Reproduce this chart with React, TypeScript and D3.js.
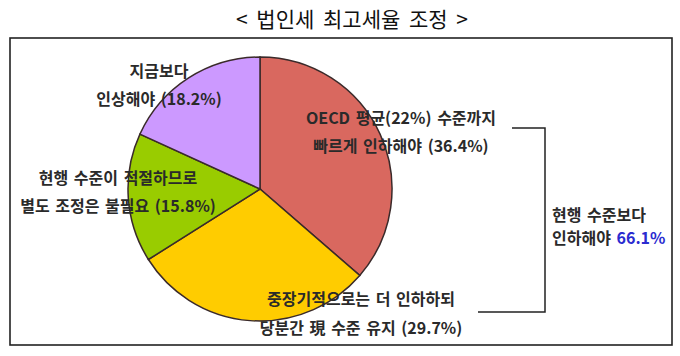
import React from "react";
import * as d3 from "d3";

const title = "< 법인세 최고세율 조정 >";
const categoryLine1 = ["OECD 평균(22%) 수준까지", "중장기적으로는 더 인하하되", "현행 수준이 적절하므로", "지금보다"];
const categoryLine2 = ["빠르게 인하해야", "당분간 現 수준 유지", "별도 조정은 불필요", "인상해야"];
const values = [36.4, 29.7, 15.8, 18.2];
const summaryLines = ["현행 수준보다", "인하해야"];
const summaryValue = "66.1%";

const W = 680;
const H = 356;
const colors = ["#D9685F", "#FFCC00", "#99CC00", "#CC99FF"];
const labelPos = [
  { x: 401, y1: 117, y2: 145 },
  { x: 361, y1: 298, y2: 327 },
  { x: 118, y1: 177, y2: 205 },
  { x: 159, y1: 70, y2: 98 },
];
const FONT = "'Noto Sans CJK KR', 'Noto Sans', sans-serif";

export default function App() {
  const cx = 260;
  const cy = 189;
  const r = 132;
  const pie = d3.pie<number>().sort(null).value((d) => d).startAngle(0).endAngle(2 * Math.PI);
  const arcs = pie(values);
  const arcGen = d3.arc<d3.PieArcDatum<number>>().innerRadius(0).outerRadius(r);

  const bx = 545, byTop = 128, byBot = 312;
  const textStyle: React.CSSProperties = { fontFamily: FONT, fontSize: 16, fontWeight: 700, fill: "#2a2a2a" };

  return (
    <svg width={W} height={H} style={{ position: "absolute", left: 0, top: 0, background: "#fff" }}>
      <rect x={0} y={0} width={W} height={H} fill="#fff" />
      <text x={352} y={27} textAnchor="middle" style={{ fontFamily: FONT, fontSize: 21, fill: "#111" }} wordSpacing={4}>
        {title}
      </text>
      <rect x={10} y={38} width={662} height={307} fill="none" stroke="#222" strokeWidth={1.6} />
      <g transform={`translate(${cx},${cy})`}>
        {arcs.map((a, i) => (
          <path key={i} d={arcGen(a) || ""} fill={colors[i]} stroke="#3a2a2a" strokeWidth={1.5} />
        ))}
      </g>
      {values.map((v, i) => (
        <g key={i} style={textStyle}>
          <text x={labelPos[i].x} y={labelPos[i].y1} textAnchor="middle" dominantBaseline="central" wordSpacing={2}>
            {categoryLine1[i]}
          </text>
          <text x={labelPos[i].x} y={labelPos[i].y2} textAnchor="middle" dominantBaseline="central" wordSpacing={2}>
            {`${categoryLine2[i]} (${v.toFixed(1)}%)`}
          </text>
        </g>
      ))}
      <path d={`M512,${byTop} H${bx} V${byBot} H478`} fill="none" stroke="#222" strokeWidth={1.5} />
      <g style={textStyle}>
        <text x={552} y={214} dominantBaseline="central" wordSpacing={2}>{summaryLines[0]}</text>
        <text x={552} y={237} dominantBaseline="central" wordSpacing={2}>
          {summaryLines[1]} <tspan fill="#2B2BD0">{summaryValue}</tspan>
        </text>
      </g>
    </svg>
  );
}
